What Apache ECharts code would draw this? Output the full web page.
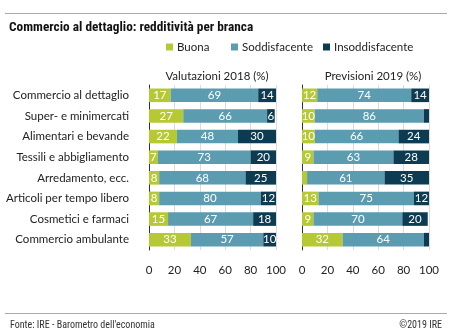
<!DOCTYPE html>
<html><head><meta charset="utf-8">
<script src="https://cdn.jsdelivr.net/npm/echarts@6/dist/echarts.min.js"></script>
<style>html,body{margin:0;padding:0;background:#fff}#c{width:450px;height:328px}</style>
</head><body><div id="c"></div>
<script>
var categories = ["Commercio al dettaglio","Super- e minimercati","Alimentari e bevande","Tessili e abbigliamento","Arredamento, ecc.","Articoli per tempo libero","Cosmetici e farmaci","Commercio ambulante"];
var seriesNames = ["Buona","Soddisfacente","Insoddisfacente"];
var buona2018 = [17,27,22,7,8,8,15,33];
var sodd2018 = [69,66,48,73,68,80,67,57];
var insod2018 = [14,6,30,20,25,12,18,10];
var buona2019 = [12,10,10,9,4,13,9,32];
var sodd2019 = [74,86,66,63,61,75,70,64];
var insod2019 = [14,4,24,28,35,12,20,4];
var xTicks = [0,20,40,60,80,100];
var panelTitles = ["Valutazioni 2018 (%)","Previsioni 2019 (%)"];

var colors = ["#b6c935","#5b9cb1","#0d3c52"];
var font = "Lato, Roboto, sans-serif";
var cfont = "'Roboto Condensed', Roboto, sans-serif";
var fs = 11.5;
var chart = echarts.init(document.getElementById('c'));
function mk(name, data, idx, ci){
  return {name:name,type:'bar',stack:'s'+idx,xAxisIndex:idx,yAxisIndex:idx,data:data,barWidth:'66%',
    itemStyle:{color:colors[ci]},
    label:{show:true,position:'inside',color:'#fff',fontSize:fs,fontFamily:font,
      formatter:function(p){return p.value<5?'':p.value;}}};
}
var grids=[{left:149,width:127,top:85,height:165},{left:302,width:127,top:85,height:165}];
var xAxes=grids.map(function(g,i){return {gridIndex:i,type:'value',min:xTicks[0],max:xTicks[xTicks.length-1],interval:20,
  axisLine:{show:false},axisTick:{show:false},
  splitLine:{show:true,lineStyle:{color:'#dcdcdc',width:1}},
  axisLabel:{fontSize:fs,color:'#222',fontFamily:font,margin:14}};});
var yAxes=grids.map(function(g,i){return {gridIndex:i,type:'category',data:categories,inverse:true,
  axisLine:{show:true,lineStyle:{color:'#333',width:1}},axisTick:{show:false},
  axisLabel:{show:i===0,fontSize:fs,color:'#222',fontFamily:font,margin:20}};});
var legendLeft=[166,231,323];
chart.setOption({
  animation:false,
  textStyle:{fontFamily:font},
  title:[
    {text:'Commercio al dettaglio: redditività per branca',left:4,top:16,textStyle:{fontSize:13.3,fontWeight:'bold',color:'#111',fontFamily:cfont}},
    {text:panelTitles[0],left:212,top:65,textAlign:'center',textStyle:{fontSize:fs,fontWeight:'normal',color:'#222',fontFamily:font}},
    {text:panelTitles[1],left:368,top:65,textAlign:'center',textStyle:{fontSize:fs,fontWeight:'normal',color:'#222',fontFamily:font}},
    {text:"Fonte: IRE - Barometro dell'economia",left:5,top:315,textStyle:{fontSize:10,fontWeight:'normal',color:'#333',fontFamily:cfont}},
    {text:"©2019 IRE",right:3,top:315,textStyle:{fontSize:10,fontWeight:'normal',color:'#333',fontFamily:cfont}}
  ],
  legend:seriesNames.map(function(n,i){return {data:[n],left:legendLeft[i],top:41,padding:0,itemWidth:7,itemHeight:7,icon:'rect',
    textStyle:{fontSize:fs,color:'#222',fontFamily:font,padding:[0,0,0,-1]}};}),
  graphic:[
    {type:'line',shape:{x1:5,y1:13.5,x2:447,y2:13.5},style:{stroke:'#aaa',lineWidth:1}},
    {type:'line',shape:{x1:5,y1:313.5,x2:447,y2:313.5},style:{stroke:'#aaa',lineWidth:1}}
  ],
  grid:grids,xAxis:xAxes,yAxis:yAxes,
  series:[mk(seriesNames[0],buona2018,0,0),mk(seriesNames[1],sodd2018,0,1),mk(seriesNames[2],insod2018,0,2),
          mk(seriesNames[0],buona2019,1,0),mk(seriesNames[1],sodd2019,1,1),mk(seriesNames[2],insod2019,1,2)]
});
</script></body></html>
